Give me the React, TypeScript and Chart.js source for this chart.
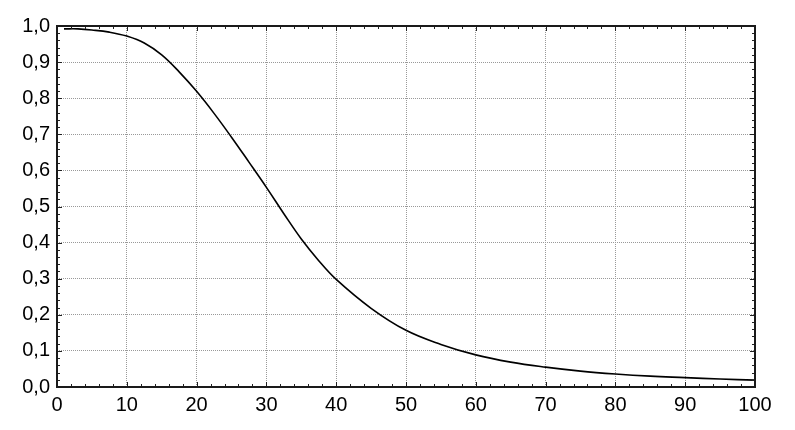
import React, { useEffect, useRef } from "react";
import { Chart, registerables } from "chart.js";

Chart.register(...registerables);

const xValues = [1, 3, 5, 7.5, 10, 12.5, 15, 17.5, 20, 22.5, 25, 27.5, 30, 32.5, 35, 37.5, 40, 45, 50, 55, 60, 65, 70, 75, 80, 85, 90, 95, 100];
const yValues = [0.992, 0.992, 0.989, 0.983, 0.972, 0.953, 0.920, 0.873, 0.819, 0.758, 0.692, 0.623, 0.553, 0.480, 0.410, 0.350, 0.298, 0.218, 0.157, 0.118, 0.089, 0.069, 0.055, 0.044, 0.036, 0.030, 0.026, 0.022, 0.019];

const xMin = 0;
const xMax = 100;
const xStep = 10;
const xMinorStep = 2;
const yMin = 0;
const yMax = 1;
const yStep = 0.1;
const yMinorStep = 0.02;

const fmt = (v: number) => Number(v).toFixed(1).replace(".", ",");

const framePlugin = {
  id: "frame",
  afterDatasetsDraw(chart: any) {
    const { ctx, chartArea } = chart;
    const xs = chart.scales.x;
    const ys = chart.scales.y;
    const { left, right, top, bottom } = chartArea;
    ctx.save();
    ctx.strokeStyle = "#222";
    ctx.lineWidth = 1;
    ctx.beginPath();
    const nx = Math.round((xMax - xMin) / xMinorStep);
    for (let i = 0; i <= nx; i++) {
      const v = xMin + i * xMinorStep;
      const px = Math.round(xs.getPixelForValue(v)) + 0.5;
      const major = Math.abs(v / xStep - Math.round(v / xStep)) < 1e-6;
      const len = major ? 5 : 3;
      ctx.moveTo(px, bottom);
      ctx.lineTo(px, bottom - len);
      ctx.moveTo(px, top);
      ctx.lineTo(px, top + len);
    }
    const ny = Math.round((yMax - yMin) / yMinorStep);
    for (let i = 0; i <= ny; i++) {
      const v = yMin + i * yMinorStep;
      const py = Math.round(ys.getPixelForValue(v)) + 0.5;
      const major = i % Math.round(yStep / yMinorStep) === 0;
      const len = major ? 5 : 3;
      ctx.moveTo(left, py);
      ctx.lineTo(left + len, py);
      ctx.moveTo(right, py);
      ctx.lineTo(right - len, py);
    }
    ctx.stroke();
    ctx.lineWidth = 2;
    ctx.strokeStyle = "#1a1a1a";
    ctx.strokeRect(left, top, right - left, bottom - top);
    ctx.restore();
  },
};

export default function App() {
  const canvasRef = useRef<HTMLCanvasElement>(null);

  useEffect(() => {
    if (!canvasRef.current) return;
    const points = xValues.map((x, i) => ({ x, y: yValues[i] }));
    const tickFont = { family: "'Liberation Sans', Arial, sans-serif", size: 20 };
    const chart = new Chart(canvasRef.current, {
      type: "line",
      data: {
        datasets: [
          {
            data: points,
            borderColor: "#000",
            borderWidth: 1.6,
            pointRadius: 0,
            fill: false,
            tension: 0.4,
          },
        ],
      },
      options: {
        animation: false,
        responsive: false,
        maintainAspectRatio: false,
        devicePixelRatio: 1,
        layout: { padding: { top: 26, right: 40, left: 0, bottom: 0 } },
        plugins: {
          legend: { display: false },
          tooltip: { enabled: false },
        },
        scales: {
          x: {
            type: "linear",
            min: xMin,
            max: xMax,
            afterFit: (s: any) => {
              s.height = 43;
            },
            ticks: {
              stepSize: xStep,
              color: "#000",
              font: tickFont,
              padding: 6,
              maxRotation: 0,
              autoSkip: false,
            },
            grid: { color: "#999999", lineWidth: 1, drawTicks: false },
            border: { display: false, dash: [1, 1] },
          },
          y: {
            type: "linear",
            min: yMin,
            max: yMax,
            afterFit: (s: any) => {
              s.width = 57;
            },
            ticks: {
              stepSize: yStep,
              color: "#000",
              font: tickFont,
              padding: 7,
              autoSkip: false,
              callback: (v: any) => fmt(v),
            },
            grid: { color: "#999999", lineWidth: 1, drawTicks: false },
            border: { display: false, dash: [1, 1] },
          },
        },
      },
      plugins: [framePlugin],
    });
    return () => chart.destroy();
  }, []);

  return (
    <div style={{ position: "fixed", left: 0, top: 0, width: 795, height: 430, background: "#fff" }}>
      <canvas ref={canvasRef} width={795} height={430} style={{ width: 795, height: 430 }} />
    </div>
  );
}
